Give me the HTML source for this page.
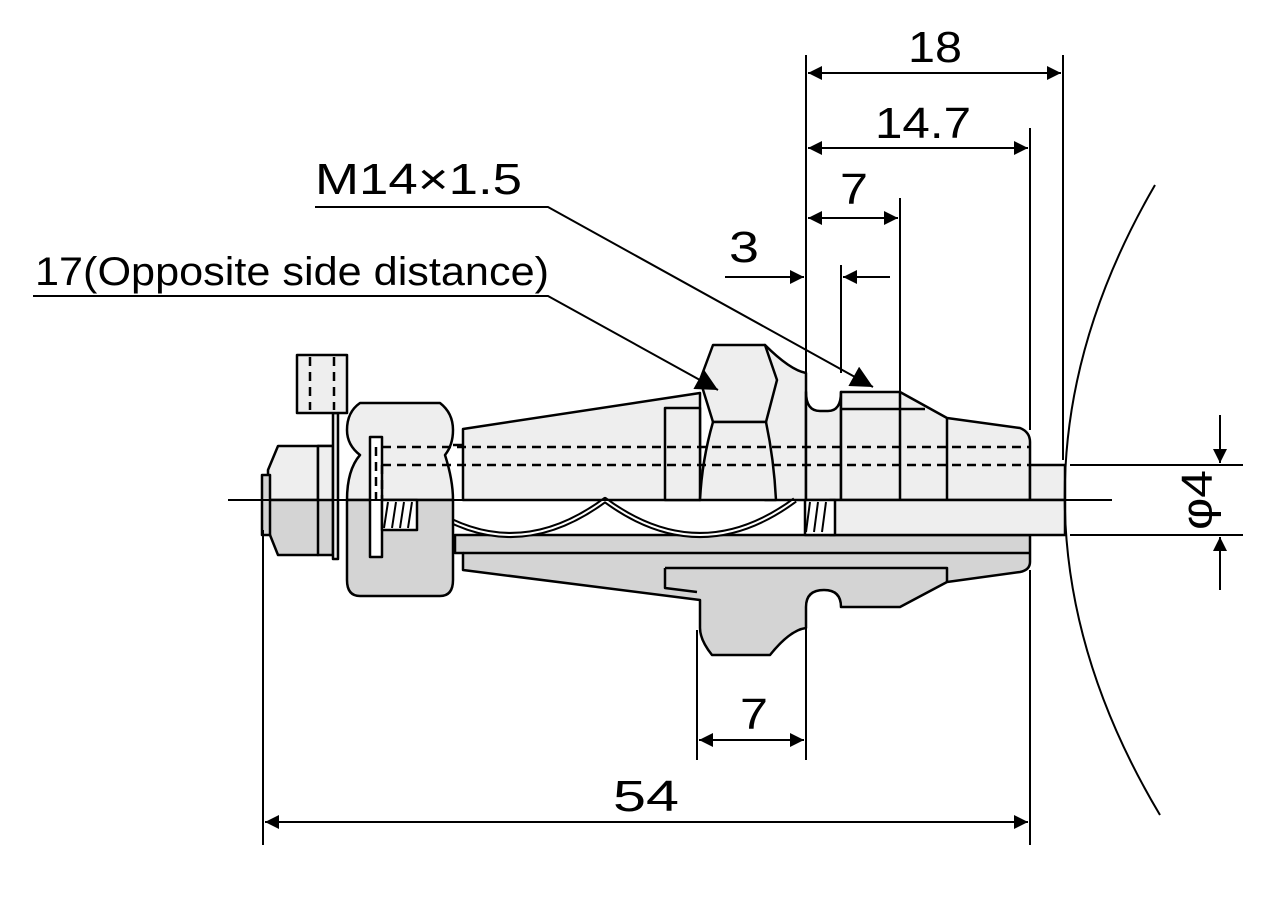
<!DOCTYPE html>
<html><head><meta charset="utf-8"><style>body{margin:0;background:#fff}svg{display:block}</style></head>
<body>
<svg width="1280" height="900" viewBox="0 0 1280 900" xmlns="http://www.w3.org/2000/svg" font-family="Liberation Sans, sans-serif">
<defs>
<marker id="b" viewBox="0 0 10 10" refX="10" refY="5" markerWidth="34" markerHeight="14" markerUnits="userSpaceOnUse" orient="auto-start-reverse"><path d="M0,0L10,5L0,10z" fill="#000"/></marker>
<marker id="c" viewBox="0 0 10 10" refX="10" refY="5" markerWidth="36" markerHeight="22" markerUnits="userSpaceOnUse" orient="auto-start-reverse"><path d="M0,0L10,5L0,10z" fill="#000"/></marker>
</defs>
<g stroke="#000" stroke-width="2.5" stroke-linejoin="round">
<path d="M455 535 H1030 V562 Q1030 570 1020 572 L947 582 L900 607 H841 Q841 590 824 590 Q806 590 806 607 V628 Q790 630 770 655 H712 Q700 640 700 628 V600 L463 570 V553 H455 Z" fill="#d4d4d4"/>
<path d="M665 568 H947 V582 M665 568 V588 L697 592" fill="none"/>
<line x1="463" y1="553" x2="1030" y2="553"/>
<path d="M463 429 L700 393 V500 H463 Z" fill="#eee"/>
<rect x="665" y="408" width="35" height="92" fill="#eee"/>
<path d="M765 345 Q790 370 806 373 V500 H765 Z" fill="#eee"/>
<path d="M713 345 H765 L777 380 L766 422 H713 L700 380 Z" fill="#eee"/>
<path d="M713 422 H766 Q774 460 776 500 H700 Q702 460 713 422 Z" fill="#eee"/>
<path d="M806 392 Q806 411 820 411 H828 Q841 411 841 392 V500 H806 Z" fill="#eee"/>
<path d="M841 392 H900 L947 418 L1020 428 Q1030 432 1030 442 V500 H841 Z" fill="#eee"/>
<line x1="900" y1="392" x2="900" y2="500"/><line x1="947" y1="418" x2="947" y2="500"/><line x1="841" y1="409" x2="925" y2="409"/>
<rect x="1030" y="465" width="35" height="35" fill="#eee"/>
<rect x="830" y="500" width="235" height="35" fill="#eee"/>
<path d="M417 500 Q510 570 605 500 Q700 570 795 500" fill="none" stroke-width="6"/>
<path d="M417 500 Q510 570 605 500 Q700 570 795 500" fill="none" stroke="#fff" stroke-width="2"/>
<path d="M360 403 H440 Q453 413 453 430 Q453 445 445 455 Q453 480 453 500 H347 Q347 470 360 455 Q347 445 347 430 Q347 412 360 403Z" fill="#eee"/>
<path d="M347 500 H453 V580 Q453 596 440 596 H360 Q347 596 347 580 Z" fill="#d4d4d4"/>
<path d="M453 445 H463" />
<path d="M278 446 H318 L323 470 L318 500 H268 V470 Z" fill="#eee"/>
<path d="M268 500 H318 L323 530 L318 555 H278 L268 530 Z" fill="#d4d4d4"/>
<rect x="262" y="475" width="8" height="60" fill="#d4d4d4"/>
<rect x="318" y="446" width="15" height="109" fill="#d4d4d4"/>
<rect x="318" y="446" width="15" height="54" fill="#eee"/>
<rect x="333" y="413" width="5" height="146" fill="#eee"/>
<rect x="297" y="355" width="50" height="58" fill="#eee"/>
<rect x="370" y="437" width="12" height="120" fill="#fff"/>
<rect x="382" y="500" width="35" height="30" fill="#fff"/>
<rect x="805" y="500" width="30" height="35" fill="#fff"/>
</g>
<g stroke="#000" stroke-width="2">
<path d="M388 502 l-4 26 M396 502 l-4 26 M404 502 l-4 26 M412 502 l-4 26 M810 502 l-4 30 M818 502 l-4 30 M826 502 l-4 30" />
</g>
<g stroke="#000" stroke-width="2.5" stroke-dasharray="9 6" fill="none">
<path d="M382 447 H1030 M382 465 H1030 M376 447 V500 M382 465 V500 M310 357 V410 M334 357 V410"/>
</g>
<line x1="228" y1="500" x2="1112" y2="500" stroke="#000" stroke-width="2"/>
<path d="M1155 185 Q972 500 1160 815" fill="none" stroke="#000" stroke-width="2"/>
<g stroke="#000" stroke-width="2" fill="none">
<path d="M806 55 V373 M1063 55 V460 M1030 128 V430 M900 198 V392 M841 265 V373"/>
<line x1="808" y1="73" x2="1061" y2="73" marker-start="url(#b)" marker-end="url(#b)"/>
<line x1="808" y1="148" x2="1028" y2="148" marker-start="url(#b)" marker-end="url(#b)"/>
<line x1="808" y1="218" x2="898" y2="218" marker-start="url(#b)" marker-end="url(#b)"/>
<line x1="725" y1="277" x2="804" y2="277" marker-end="url(#b)"/>
<line x1="890" y1="277" x2="843" y2="277" marker-end="url(#b)"/>
<path d="M315 207 H548 L873 387" marker-end="url(#c)"/>
<path d="M33 296 H548 L718 390" marker-end="url(#c)"/>
<path d="M1070 465 H1243 M1070 535 H1243"/>
<line x1="1220" y1="415" x2="1220" y2="463" marker-end="url(#b)"/>
<line x1="1220" y1="590" x2="1220" y2="537" marker-end="url(#b)"/>
<path d="M697 630 V760 M806 628 V760 M263 530 V845 M1030 570 V845"/>
<line x1="699" y1="740" x2="804" y2="740" marker-start="url(#b)" marker-end="url(#b)"/>
<line x1="265" y1="822" x2="1028" y2="822" marker-start="url(#b)" marker-end="url(#b)"/>
</g>
<g font-size="44" fill="#000" lengthAdjust="spacingAndGlyphs">
<text x="908" y="62" textLength="54" lengthAdjust="spacingAndGlyphs">18</text>
<text x="875" y="138" textLength="96" lengthAdjust="spacingAndGlyphs">14.7</text>
<text x="840" y="204" textLength="28" lengthAdjust="spacingAndGlyphs">7</text>
<text x="729" y="262" textLength="30" lengthAdjust="spacingAndGlyphs">3</text>
<text x="315" y="194" textLength="207" lengthAdjust="spacingAndGlyphs">M14×1.5</text>
<text x="35" y="285" font-size="40" textLength="514" lengthAdjust="spacingAndGlyphs">17(Opposite side distance)</text>
<text x="740" y="729" textLength="28" lengthAdjust="spacingAndGlyphs">7</text>
<text x="613" y="811" textLength="66" lengthAdjust="spacingAndGlyphs">54</text>
<text transform="translate(1212 530) rotate(-90)" textLength="60" lengthAdjust="spacingAndGlyphs">φ4</text>
</g>
</svg>
</body></html>
